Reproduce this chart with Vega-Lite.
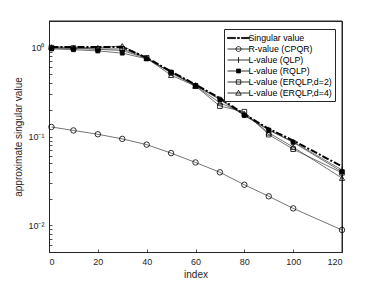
{
  "$schema": "https://vega.github.io/schema/vega-lite/v6.json",
  "autosize": "none",
  "width": 293,
  "height": 231,
  "padding": {"left": 49, "top": 21, "right": 36, "bottom": 32},
  "background": "white",
  "config": {
    "font": "Liberation Sans",
    "view": {"stroke": "#262626", "strokeWidth": 1},
    "axis": {"grid": false, "domainColor": "#262626", "domainWidth": 0.8, "tickColor": "#262626", "tickWidth": 0.8, "labelColor": "#262626", "titleColor": "#262626", "labelFont": "Liberation Sans", "titleFont": "Liberation Sans", "labelFontSize": 9, "titleFontSize": 10, "titleFontWeight": "normal"}
  },
  "data": {"values": [
    {"series": "Singular value", "index": 1, "value": 1.02},
    {"series": "Singular value", "index": 10, "value": 1.02},
    {"series": "Singular value", "index": 20, "value": 1.02},
    {"series": "Singular value", "index": 30, "value": 1.02},
    {"series": "Singular value", "index": 40, "value": 0.77},
    {"series": "Singular value", "index": 50, "value": 0.54},
    {"series": "Singular value", "index": 60, "value": 0.385},
    {"series": "Singular value", "index": 70, "value": 0.27},
    {"series": "Singular value", "index": 80, "value": 0.178},
    {"series": "Singular value", "index": 90, "value": 0.122},
    {"series": "Singular value", "index": 100, "value": 0.09},
    {"series": "Singular value", "index": 120, "value": 0.046},
    {"series": "R-value (CPQR)", "index": 1, "value": 0.128},
    {"series": "R-value (CPQR)", "index": 10, "value": 0.117},
    {"series": "R-value (CPQR)", "index": 20, "value": 0.106},
    {"series": "R-value (CPQR)", "index": 30, "value": 0.094},
    {"series": "R-value (CPQR)", "index": 40, "value": 0.081},
    {"series": "R-value (CPQR)", "index": 50, "value": 0.065},
    {"series": "R-value (CPQR)", "index": 60, "value": 0.051},
    {"series": "R-value (CPQR)", "index": 70, "value": 0.0395},
    {"series": "R-value (CPQR)", "index": 80, "value": 0.0286},
    {"series": "R-value (CPQR)", "index": 90, "value": 0.0212},
    {"series": "R-value (CPQR)", "index": 100, "value": 0.0155},
    {"series": "R-value (CPQR)", "index": 120, "value": 0.00885},
    {"series": "L-value (QLP)", "index": 1, "value": 0.99},
    {"series": "L-value (QLP)", "index": 10, "value": 0.98},
    {"series": "L-value (QLP)", "index": 20, "value": 0.96},
    {"series": "L-value (QLP)", "index": 30, "value": 0.93},
    {"series": "L-value (QLP)", "index": 40, "value": 0.76},
    {"series": "L-value (QLP)", "index": 50, "value": 0.53},
    {"series": "L-value (QLP)", "index": 60, "value": 0.38},
    {"series": "L-value (QLP)", "index": 70, "value": 0.265},
    {"series": "L-value (QLP)", "index": 80, "value": 0.175},
    {"series": "L-value (QLP)", "index": 90, "value": 0.12},
    {"series": "L-value (QLP)", "index": 100, "value": 0.087},
    {"series": "L-value (QLP)", "index": 120, "value": 0.042},
    {"series": "L-value (RQLP)", "index": 1, "value": 0.97},
    {"series": "L-value (RQLP)", "index": 10, "value": 0.95},
    {"series": "L-value (RQLP)", "index": 20, "value": 0.92},
    {"series": "L-value (RQLP)", "index": 30, "value": 0.87},
    {"series": "L-value (RQLP)", "index": 40, "value": 0.75},
    {"series": "L-value (RQLP)", "index": 50, "value": 0.53},
    {"series": "L-value (RQLP)", "index": 60, "value": 0.375},
    {"series": "L-value (RQLP)", "index": 70, "value": 0.26},
    {"series": "L-value (RQLP)", "index": 80, "value": 0.172},
    {"series": "L-value (RQLP)", "index": 90, "value": 0.118},
    {"series": "L-value (RQLP)", "index": 100, "value": 0.086},
    {"series": "L-value (RQLP)", "index": 120, "value": 0.04},
    {"series": "L-value (ERQLP,d=2)", "index": 1, "value": 1.0},
    {"series": "L-value (ERQLP,d=2)", "index": 10, "value": 0.99},
    {"series": "L-value (ERQLP,d=2)", "index": 20, "value": 0.97},
    {"series": "L-value (ERQLP,d=2)", "index": 30, "value": 0.97},
    {"series": "L-value (ERQLP,d=2)", "index": 40, "value": 0.77},
    {"series": "L-value (ERQLP,d=2)", "index": 50, "value": 0.52},
    {"series": "L-value (ERQLP,d=2)", "index": 60, "value": 0.37},
    {"series": "L-value (ERQLP,d=2)", "index": 70, "value": 0.22},
    {"series": "L-value (ERQLP,d=2)", "index": 80, "value": 0.19},
    {"series": "L-value (ERQLP,d=2)", "index": 90, "value": 0.105},
    {"series": "L-value (ERQLP,d=2)", "index": 100, "value": 0.072},
    {"series": "L-value (ERQLP,d=2)", "index": 120, "value": 0.039},
    {"series": "L-value (ERQLP,d=4)", "index": 1, "value": 1.02},
    {"series": "L-value (ERQLP,d=4)", "index": 10, "value": 1.01},
    {"series": "L-value (ERQLP,d=4)", "index": 20, "value": 1.0},
    {"series": "L-value (ERQLP,d=4)", "index": 30, "value": 1.05},
    {"series": "L-value (ERQLP,d=4)", "index": 40, "value": 0.76},
    {"series": "L-value (ERQLP,d=4)", "index": 50, "value": 0.49},
    {"series": "L-value (ERQLP,d=4)", "index": 60, "value": 0.37},
    {"series": "L-value (ERQLP,d=4)", "index": 70, "value": 0.24},
    {"series": "L-value (ERQLP,d=4)", "index": 80, "value": 0.18},
    {"series": "L-value (ERQLP,d=4)", "index": 90, "value": 0.11},
    {"series": "L-value (ERQLP,d=4)", "index": 100, "value": 0.076},
    {"series": "L-value (ERQLP,d=4)", "index": 120, "value": 0.034}
  ]},
  "layer": [
    {
      "transform": [{"filter": "datum.series !== 'Singular value'"}],
      "mark": {"type": "line", "stroke": "#3a3a3a", "strokeWidth": 0.7},
      "encoding": {
        "x": {"field": "index", "type": "quantitative", "scale": {"domain": [0, 120], "nice": false}, "axis": {"values": [0, 20, 40, 60, 80, 100, 120], "tickSize": -3, "labelPadding": 8, "title": "index", "titlePadding": 3}},
        "y": {"field": "value", "type": "quantitative", "scale": {"type": "log", "domain": [0.005, 2], "nice": false}, "axis": {"values": [0.005, 0.006, 0.007, 0.008, 0.009, 0.01, 0.02, 0.03, 0.04, 0.05, 0.06, 0.07, 0.08, 0.09, 0.1, 0.2, 0.3, 0.4, 0.5, 0.6, 0.7, 0.8, 0.9, 1, 2], "labelExpr": "datum.value == 1 ? '10⁰' : datum.value == 0.1 ? '10⁻¹' : datum.value == 0.01 ? '10⁻²' : ''", "tickSize": -3, "labelPadding": 8, "title": "approximate singular value", "titlePadding": 4}},
        "detail": {"field": "series"}
      }
    },
    {
      "transform": [{"filter": "datum.series === 'Singular value' && datum.index === 1"}],
      "mark": {"type": "rule", "stroke": "#262626", "strokeWidth": 1},
      "encoding": {
        "x": {"datum": 0, "type": "quantitative"},
        "x2": {"datum": 120},
        "y": {"datum": 2, "type": "quantitative"}
      }
    },
    {
      "transform": [{"filter": "datum.series === 'Singular value' && datum.index === 1"}],
      "mark": {"type": "rule", "stroke": "#262626", "strokeWidth": 1},
      "encoding": {
        "x": {"datum": 120, "type": "quantitative"},
        "y": {"datum": 0.005, "type": "quantitative"},
        "y2": {"datum": 2}
      }
    },
    {
      "transform": [{"filter": "datum.series === 'Singular value'"}],
      "mark": {"type": "line", "stroke": "black", "strokeWidth": 2, "strokeDash": [7, 2, 2, 2]},
      "encoding": {
        "x": {"field": "index", "type": "quantitative"},
        "y": {"field": "value", "type": "quantitative"}
      }
    },
    {
      "transform": [{"filter": "datum.series === 'R-value (CPQR)'"}],
      "mark": {"type": "point", "shape": "circle", "filled": false, "stroke": "black", "strokeWidth": 0.8, "size": 30, "opacity": 1},
      "encoding": {
        "x": {"field": "index", "type": "quantitative"},
        "y": {"field": "value", "type": "quantitative"}
      }
    },
    {
      "transform": [{"filter": "datum.series === 'L-value (QLP)'"}],
      "mark": {"type": "point", "shape": "M-1,0L1,0M0,-1L0,1", "filled": false, "stroke": "black", "strokeWidth": 0.8, "size": 30, "opacity": 1},
      "encoding": {
        "x": {"field": "index", "type": "quantitative"},
        "y": {"field": "value", "type": "quantitative"}
      }
    },
    {
      "transform": [{"filter": "datum.series === 'L-value (RQLP)'"}],
      "mark": {"type": "point", "shape": "square", "filled": true, "fill": "black", "stroke": "black", "strokeWidth": 0.8, "size": 16, "opacity": 1},
      "encoding": {
        "x": {"field": "index", "type": "quantitative"},
        "y": {"field": "value", "type": "quantitative"}
      }
    },
    {
      "transform": [{"filter": "datum.series === 'L-value (ERQLP,d=2)'"}],
      "mark": {"type": "point", "shape": "square", "filled": false, "stroke": "black", "strokeWidth": 0.8, "size": 22, "opacity": 1},
      "encoding": {
        "x": {"field": "index", "type": "quantitative"},
        "y": {"field": "value", "type": "quantitative"}
      }
    },
    {
      "transform": [{"filter": "datum.series === 'L-value (ERQLP,d=4)'"}],
      "mark": {"type": "point", "shape": "triangle-up", "filled": false, "stroke": "black", "strokeWidth": 0.8, "size": 28, "opacity": 1},
      "encoding": {
        "x": {"field": "index", "type": "quantitative"},
        "y": {"field": "value", "type": "quantitative"}
      }
    },
    {
      "transform": [{"filter": "datum.index < 0"}],
      "mark": {"type": "point", "strokeWidth": 0.8, "size": 121, "opacity": 1},
      "encoding": {
        "x": {"field": "index", "type": "quantitative"},
        "y": {"field": "value", "type": "quantitative"},
        "shape": {"field": "series", "type": "nominal", "scale": {"domain": ["Singular value", "R-value (CPQR)", "L-value (QLP)", "L-value (RQLP)", "L-value (ERQLP,d=2)", "L-value (ERQLP,d=4)"], "range": [
          "M-2,-0.1H-0.55V0.1H-2Z M-0.18,-0.1H0.18V0.1H-0.18Z M0.55,-0.1H2V0.1H0.55Z",
          "M-2,0H2 M0.45,0A0.45,0.45 0 1 1 -0.45,0A0.45,0.45 0 1 1 0.45,0",
          "M-2,0H2 M0,-0.55V0.55",
          "M-2,0H2 M-0.35,-0.35H0.35V0.35H-0.35Z",
          "M-2,0H2 M-0.4,-0.4H0.4V0.4H-0.4Z",
          "M-2,0H2 M0,-0.5L0.5,0.4H-0.5Z"
        ]}, "legend": {"title": null, "orient": "none", "legendX": 175, "legendY": 8, "symbolSize": 121, "symbolOffset": 5.5, "symbolOpacity": 1, "symbolStrokeColor": "black", "symbolStrokeWidth": 0.8, "labelFont": "Liberation Sans", "labelFontSize": 8.8, "labelColor": "black", "rowPadding": -3.7, "labelOffset": 4, "padding": 3, "strokeColor": "#262626", "fillColor": "white", "labelLimit": 200}},
        "fill": {"field": "series", "type": "nominal", "scale": {"domain": ["Singular value", "R-value (CPQR)", "L-value (QLP)", "L-value (RQLP)", "L-value (ERQLP,d=2)", "L-value (ERQLP,d=4)"], "range": ["black", "transparent", "transparent", "black", "transparent", "transparent"]}},
        "stroke": {"field": "series", "type": "nominal", "scale": {"domain": ["Singular value", "R-value (CPQR)", "L-value (QLP)", "L-value (RQLP)", "L-value (ERQLP,d=2)", "L-value (ERQLP,d=4)"], "range": ["black", "black", "black", "black", "black", "black"]}}
      }
    }
  ]
}
